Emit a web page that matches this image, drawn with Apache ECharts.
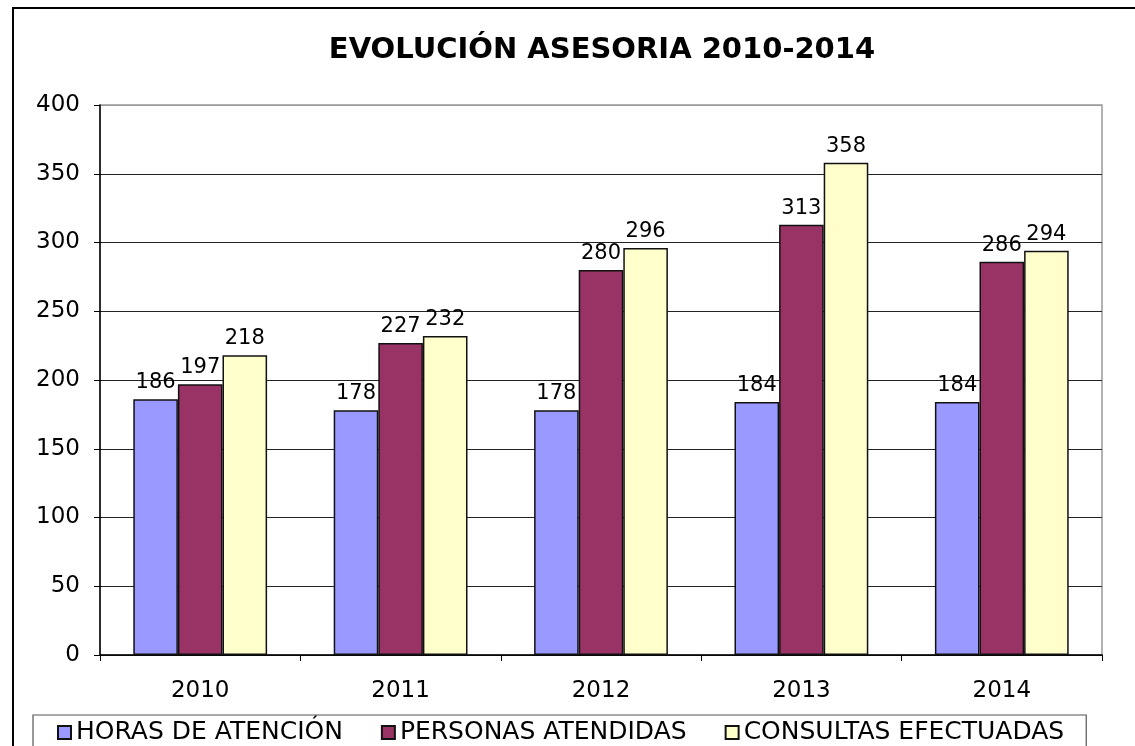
<!DOCTYPE html>
<html>
<head>
<meta charset="utf-8">
<script src="https://cdn.jsdelivr.net/npm/echarts@6/dist/echarts.min.js"></script>
<style>
  html, body { margin: 0; padding: 0; background: #fff; }
  #chart { width: 1135px; height: 746px; }
</style>
</head>
<body>
<div id="chart"></div>
<script>
// datos
var years = ['2010', '2011', '2012', '2013', '2014'];
var horas = [186, 178, 178, 184, 184];
var personas = [197, 227, 280, 313, 286];
var consultas = [218, 232, 296, 358, 294];
var yTicks = [0, 50, 100, 150, 200, 250, 300, 350, 400];

var FONT = '"DejaVu Sans", Verdana, sans-serif';

function makeSeries(name, data, color) {
  return {
    name: name,
    type: 'bar',
    data: data,
    barWidth: 44.6,
    barGap: '0%',
    itemStyle: { color: color, borderColor: '#111', borderWidth: 1.5 },
    label: {
      show: true,
      position: 'top',
      distance: 6,
      color: '#000',
      fontFamily: FONT,
      fontSize: 21
    }
  };
}

var myChart = echarts.init(document.getElementById('chart'));

// colores de las lineas de division, la ultima (400) gris como el borde
var splitColors = yTicks.map(function (v, i) {
  return i === yTicks.length - 1 ? '#999' : '#222';
});

var option = {
  backgroundColor: '#fff',
  animation: false,
  title: {
    text: 'EVOLUCIÓN ASESORIA 2010-2014',
    left: 597,
    top: 31,
    textAlign: 'center',
    textStyle: { fontFamily: FONT, fontSize: 29, fontWeight: 'bold', color: '#000' }
  },
  grid: {
    left: 100,
    right: 33,
    top: 105,
    bottom: 91,
    show: true,
    borderColor: '#999',
    borderWidth: 1.5,
    containLabel: false
  },
  legend: {
    left: 33,
    top: 715,
    padding: [5, 22, 30, 24],
    borderColor: '#555',
    borderWidth: 1.2,
    itemGap: 38,
    itemWidth: 13,
    itemHeight: 13,
    icon: 'rect',
    textStyle: { fontFamily: FONT, fontSize: 25, color: '#000', padding: [0, 0, 0, 0] }
  },
  xAxis: {
    type: 'category',
    data: years,
    axisLine: { lineStyle: { color: '#000', width: 1.5 } },
    axisTick: { show: true, length: 6, lineStyle: { color: '#000' } },
    axisLabel: { fontFamily: FONT, fontSize: 23, color: '#000', margin: 25 }
  },
  yAxis: {
    type: 'value',
    min: 0,
    max: 400,
    interval: 50,
    axisLine: { show: true, lineStyle: { color: '#000', width: 1.5 } },
    axisTick: { show: true, length: 6, lineStyle: { color: '#000' } },
    axisLabel: { fontFamily: FONT, fontSize: 23, color: '#000', margin: 20 },
    splitLine: { show: true, lineStyle: { color: splitColors, width: 1.2 } }
  },
  graphic: [{
    type: 'rect',
    shape: { x: 13, y: 8, width: 1200, height: 800 },
    style: { fill: 'none', stroke: '#000', lineWidth: 2 },
    silent: true
  }],
  series: [
    makeSeries('HORAS DE ATENCIÓN', horas, '#9999FF'),
    makeSeries('PERSONAS ATENDIDAS', personas, '#993366'),
    makeSeries('CONSULTAS EFECTUADAS', consultas, '#FFFFCC')
  ]
};

myChart.setOption(option);
</script>
</body>
</html>
